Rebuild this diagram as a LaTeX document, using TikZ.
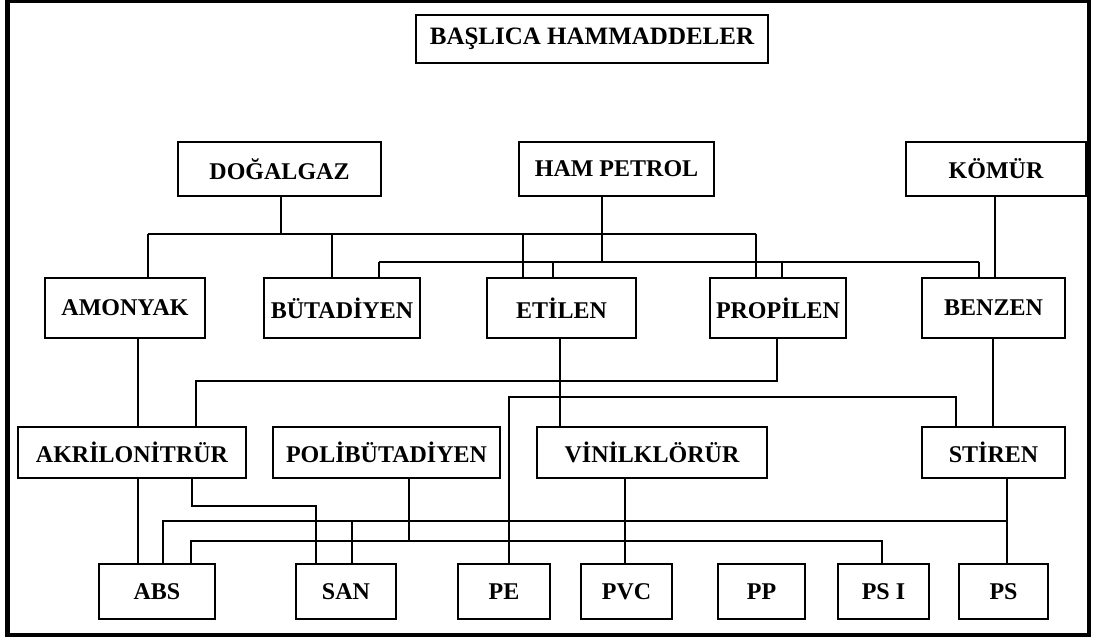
\documentclass[tikz,border=0pt]{standalone}
\usepackage{fontspec}
\setmainfont{Liberation Serif}
\begin{document}
\begin{tikzpicture}[x=1pt, y=-1pt, line width=1.5pt,
    box/.style={draw, inner sep=0pt, font=\fontsize{24}{28}\selectfont\bfseries}]
    \useasboundingbox (0,0) rectangle (1101,639);
    \draw[line width=4.5pt] (7.5,0.5) rectangle (1089,635);
    \node[box, minimum width=352, minimum height=48, font=\fontsize{25}{30}\selectfont\bfseries]
        (hammadde) at (592,39) {BAŞLICA HAMMADDELER};
    % raw materials
    \foreach \name/\cx/\w/\text in {dogalgaz/279.5/203/DOĞALGAZ, petrol/616.5/195/HAM PETROL,
            komur/996/180/KÖMÜR}
        \node[box, minimum width=\w, minimum height=54] (\name) at (\cx,169) {\text};
    % intermediates
    \foreach \name/\cx/\w/\text in {amonyak/125/160/AMONYAK, butadiyen/342/156/BÜTADİYEN,
            etilen/561.5/149/ETİLEN, propilen/778/136/PROPİLEN, benzen/993.5/143/BENZEN}
        \node[box, minimum width=\w, minimum height=60] (\name) at (\cx,308) {\text};
    \foreach \name/\cx/\w/\text in {akrilo/132/228/AKRİLONİTRÜR, polibut/386.5/227/POLİBÜTADİYEN,
            vinil/652/230/VİNİLKLÖRÜR, stiren/993.5/143/STİREN}
        \node[box, minimum width=\w, minimum height=51] (\name) at (\cx,452.5) {\text};
    % plastics
    \foreach \name/\cx/\w/\text in {abs/157/116/ABS, san/346/100/SAN, pe/504/92/PE, pvc/626.5/91/PVC,
            pp/761.5/87/PP, psi/883.5/91/PS I, ps/1003.5/89/PS}
        \node[box, minimum width=\w, minimum height=55] (\name) at (\cx,591.5) {\text};
    % buses
    \coordinate (gas-bus) at (0,234);
    \coordinate (oil-bus) at (0,262);
    \coordinate (propilen-bus) at (0,381);
    \coordinate (stiren-bus) at (0,397);
    \coordinate (akrilo-bus) at (0,506);
    \coordinate (abs-bus) at (0,521);
    \coordinate (polibut-bus) at (0,541);
    \draw (281,0 |- dogalgaz.south) -- (281,0 |- gas-bus);
    \draw (148,0 |- gas-bus) -- (756,0 |- gas-bus);
    \foreach \x/\target in {148/amonyak, 332/butadiyen, 523/etilen, 756/propilen}
        \draw (\x,0 |- gas-bus) -- (\x,0 |- \target.north);
    \draw (602,0 |- petrol.south) -- (602,0 |- oil-bus);
    \draw (379,0 |- oil-bus) -- (979,0 |- oil-bus);
    \foreach \x/\target in {379/butadiyen, 553/etilen, 782/propilen, 979/benzen}
        \draw (\x,0 |- oil-bus) -- (\x,0 |- \target.north);
    \draw (995,0 |- komur.south) -- (995,0 |- benzen.north);
    \draw (138,0 |- amonyak.south) -- (138,0 |- akrilo.north);
    \draw (560,0 |- etilen.south) -- (560,0 |- vinil.north);
    \draw (993,0 |- benzen.south) -- (993,0 |- stiren.north);
    \draw (777,0 |- propilen.south) -- (777,0 |- propilen-bus) -- (196,0 |- propilen-bus)
        -- (196,0 |- akrilo.north);
    \draw (956,0 |- stiren.north) -- (956,0 |- stiren-bus) -- (509,0 |- stiren-bus)
        -- (509,0 |- pe.north);
    \draw (138,0 |- akrilo.south) -- (138,0 |- abs.north);
    \draw (192,0 |- akrilo.south) -- (192,0 |- akrilo-bus) -- (316,0 |- akrilo-bus)
        -- (316,0 |- san.north);
    \draw (1007,0 |- stiren.south) -- (1007,0 |- ps.north);
    \draw (1007,0 |- abs-bus) -- (163,0 |- abs-bus) -- (163,0 |- abs.north);
    \draw (352,0 |- abs-bus) -- (352,0 |- san.north);
    \draw (409,0 |- polibut.south) -- (409,0 |- polibut-bus);
    \draw (191,0 |- abs.north) -- (191,0 |- polibut-bus) -- (882,0 |- polibut-bus)
        -- (882,0 |- psi.north);
    \draw (625,0 |- vinil.south) -- (625,0 |- pvc.north);
\end{tikzpicture}
\end{document}
